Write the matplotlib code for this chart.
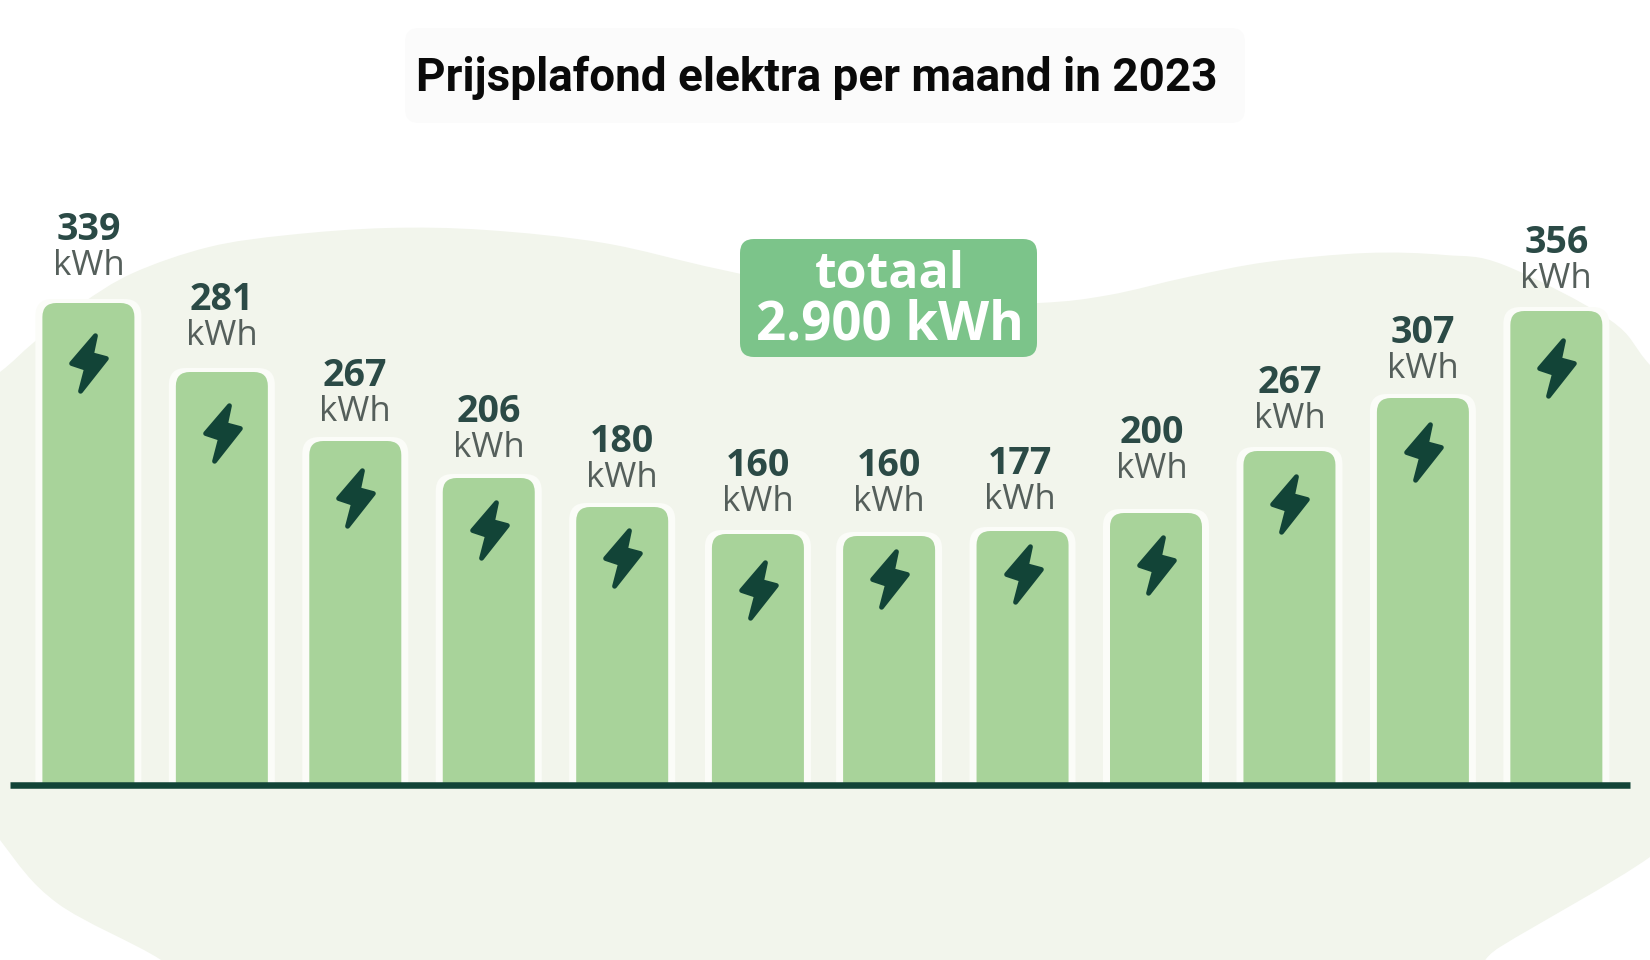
# -*- coding: utf-8 -*-
import numpy as np
import matplotlib
matplotlib.use("Agg")
import matplotlib.pyplot as plt
from matplotlib.markers import MarkerStyle
from matplotlib.patches import FancyBboxPatch, PathPatch, Rectangle
from matplotlib.path import Path
from matplotlib.transforms import Affine2D

title = "Prijsplafond elektra per maand in 2023"
total_lines = ["totaal", "2.900 kWh"]
unit = "kWh"

# printed values, Jan..Dec
kwh = [339, 281, 267, 206, 180, 160, 160, 177, 200, 267, 307, 356]
# drawn height of each bar (not proportional to the printed value)
bar_heights = [483, 414, 345, 308, 279, 252, 250, 255, 273, 335, 388, 475]
label_y = [546, 476, 400, 364, 334, 310, 310, 312, 343, 393, 443, 533]
bolt_y = [423, 353, 288, 256, 228, 196, 207, 212, 221, 282, 334, 418]
label_nudge = [0, 0, 0, 0, 0, 0.02, 0, -0.02, -0.03, 0, 0, 0]

GREEN = "#a8d39a"
BADGE = "#7cc48a"
BLOB = "#f2f5ec"
DARK = "#124437"
NUM = "#2b4a46"
UNIT = "#555f5b"
HALO = "#fbfcf8"

W, H = 1650, 960
SLOT = 133.45  # px per bar slot
LEFT = 88.4    # px centre of first bar
BASE = 786     # px of the base line

fig = plt.figure(figsize=(W / 100, H / 100), dpi=100, facecolor="white")
ax = fig.add_axes([0, 0, 1, 1])
ax.set_xlim(-LEFT / SLOT, (W - LEFT) / SLOT)
ax.set_ylim(BASE - H, BASE)
ax.axis("off")

# decoration is placed in reference pixels, y going down
px = Affine2D().scale(1 / W, -1 / H).translate(0, 1) + fig.transFigure

outline = [(-60, 415), (0, 372), (33, 343), (80, 305), (133, 273), (209, 247), (288, 235),
           (387, 228), (486, 230), (604, 243), (723, 270), (900, 305), (1038, 303),
           (1109, 295), (1188, 277), (1267, 262), (1366, 253), (1445, 255), (1504, 265),
           (1610, 320), (1650, 365), (1720, 440), (1720, 790), (1650, 857), (1500, 947),
           (1420, 1000), (1000, 1030), (500, 1030), (210, 1005), (161, 960), (57, 903),
           (0, 840), (-60, 750)]
pts = np.array(outline, dtype=float)
n_pts = len(pts)
verts = [pts[0]]
codes = [Path.MOVETO]
for i in range(n_pts):
    p0, p1, p2, p3 = (pts[(i + k) % n_pts] for k in (-1, 0, 1, 2))
    verts += [p1 + (p2 - p0) / 6, p2 - (p3 - p1) / 6, p2]
    codes += [Path.CURVE4] * 3
ax.add_patch(PathPatch(Path(verts, codes), fc=BLOB, ec="none", transform=px, zorder=1))

# title panel
ax.add_patch(FancyBboxPatch((405, 28), 840, 95, boxstyle="round,pad=0,rounding_size=14",
                            fc="#fbfbfb", ec="none", transform=px, zorder=2))
ax.text(817, 91, title, transform=px, ha="center", va="baseline", fontsize=33,
        fontweight="bold", family="Roboto", color="#0a0a0a", zorder=3)

x = np.arange(len(kwh), dtype=float)
x[5] += 0.017
width = 92 / SLOT
keep = Rectangle((-2, 0), 20, 2000, transform=ax.transData)

# white rim then the bar, rounded on top, cut at the base line
for xi, h in zip(x, bar_heights):
    rim = FancyBboxPatch((xi - width / 2 - 7 / SLOT, -30), width + 14 / SLOT, h + 30 + 4,
                         boxstyle="round,pad=0,rounding_size=%f" % (17 / SLOT),
                         mutation_aspect=SLOT, fc=HALO, ec="none", zorder=3)
    bar = FancyBboxPatch((xi - width / 2, -30), width, h + 30,
                         boxstyle="round,pad=0,rounding_size=%f" % (14 / SLOT),
                         mutation_aspect=SLOT, fc=GREEN, ec="none", zorder=4)
    ax.add_patch(rim)
    ax.add_patch(bar)
    rim.set_clip_path(keep)
    bar.set_clip_path(keep)

ax.hlines(1, (10 - LEFT) / SLOT, (1630 - LEFT) / SLOT, color=DARK, lw=4.7, zorder=5)

bolt = Path([(7, 28), (-17, 0), (-2, -5), (-8, -28), (18, 5), (3, 9), (7, 28)], closed=True)
ax.plot(x, bolt_y, ls="none", marker=MarkerStyle(bolt, joinstyle="round"), ms=40,
        mfc=DARK, mec=DARK, mew=3.5, zorder=6)

for xi, n, dx, y in zip(np.arange(len(kwh)), kwh, label_nudge, label_y):
    ax.text(xi + dx, y, str(n), ha="center", va="baseline", fontsize=27, fontweight="bold",
            family="Open Sans", color=NUM, zorder=6)
    ax.text(xi + dx, y - 35, unit, ha="center", va="baseline", fontsize=25,
            family="Open Sans", color=UNIT, zorder=6)

# total badge
ax.add_patch(FancyBboxPatch((740, 239), 297, 118, boxstyle="round,pad=0,rounding_size=14",
                            fc=BADGE, ec="none", transform=px, zorder=6))
ax.text(890, 288, total_lines[0], transform=px, ha="center", va="baseline", fontsize=36,
        fontweight="bold", family="Open Sans", color="white", zorder=7)
ax.text(890, 339, total_lines[1], transform=px, ha="center", va="baseline", fontsize=38,
        fontweight="bold", family="Open Sans", color="white", zorder=7)

fig.savefig("out.png", dpi=100)
